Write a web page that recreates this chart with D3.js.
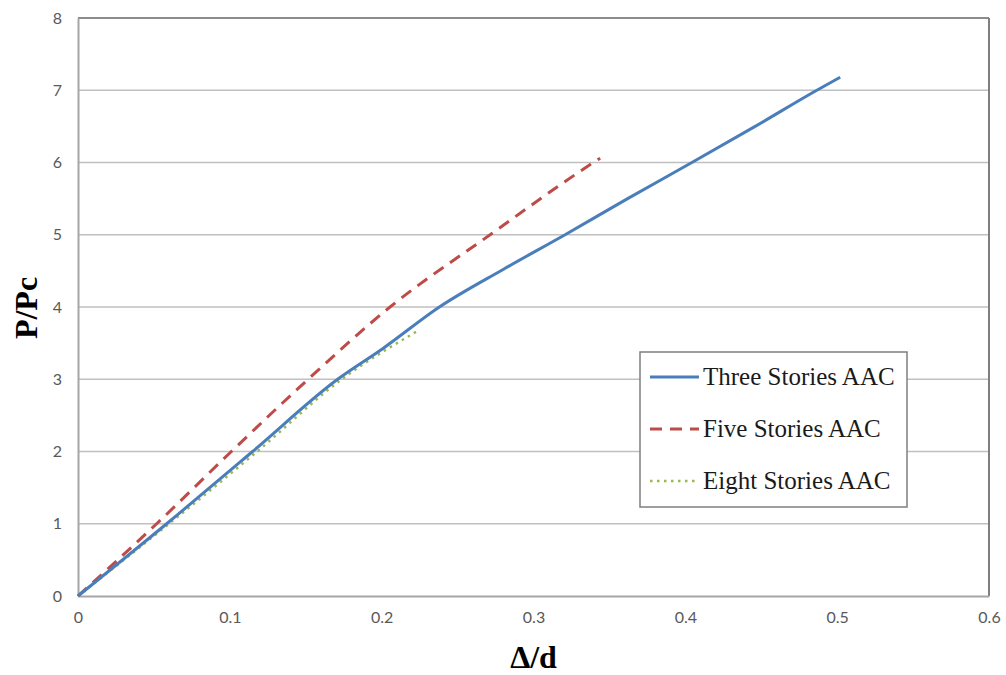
<!DOCTYPE html>
<html>
<head>
<meta charset="utf-8">
<script src="https://cdn.jsdelivr.net/npm/d3@7"></script>
<style>
  body { margin: 0; background: #fff; }
  .tick text { font-family: Lato, "Open Sans", sans-serif; font-size: 16px; fill: #595959; }
</style>
</head>
<body>
<div id="chart"></div>
<script>
// data (x = delta/d, y = P/Pc)
var threeX = [0, 0.0584, 0.115, 0.171, 0.2011, 0.2380, 0.2800, 0.3208, 0.3620, 0.4043, 0.4460, 0.4866, 0.502];
var threeY = [0, 1, 2, 3, 3.43, 4, 4.52, 5, 5.50, 6, 6.50, 7, 7.18];
var fiveX = [0, 0.0518, 0.101, 0.1516, 0.2055, 0.2714, 0.3380, 0.3439];
var fiveY = [0, 1, 2, 3, 4, 5, 5.98, 6.06];
var eightX = [0, 0.060, 0.118, 0.1737, 0.223];
var eightY = [0, 1, 2, 3, 3.66];
var seriesNames = ["Three Stories AAC", "Five Stories AAC", "Eight Stories AAC"];
var xTicks = [0, 0.1, 0.2, 0.3, 0.4, 0.5, 0.6];
var yTicks = [0, 1, 2, 3, 4, 5, 6, 7, 8];

var W = 1006, H = 675;
var margin = { top: 18, right: 17, bottom: 79, left: 78 },
    width = W - margin.left - margin.right,
    height = H - margin.top - margin.bottom;

var svg = d3.select("#chart").append("svg")
    .attr("width", W).attr("height", H)
    .append("g")
    .attr("transform", `translate(${margin.left} ${margin.top})`);

var x = d3.scaleLinear().domain([0, 0.6]).range([0, width]);
var y = d3.scaleLinear().domain([0, 8]).range([height, 0]);

// gridlines
svg.append("g")
    .selectAll("line")
    .data(yTicks.slice(1))
    .enter().append("line")
    .attr("x1", 0).attr("x2", width)
    .attr("y1", d => y(d)).attr("y2", d => y(d))
    .attr("stroke", d => d === 8 ? "#8c8c8c" : "#c0c0c0")
    .attr("stroke-width", d => d === 8 ? 2 : 1.5);

// right border
svg.append("line")
    .attr("x1", width).attr("x2", width)
    .attr("y1", 0).attr("y2", height)
    .attr("stroke", "#7f7f7f").attr("stroke-width", 2);

// axes
var xAxis = svg.append("g")
    .attr("transform", "translate(0," + height + ")")
    .call(d3.axisBottom(x).tickValues(xTicks).tickSize(0).tickPadding(16).tickFormat(d => d === 0 ? "0" : d3.format(".1f")(d)));
xAxis.select(".domain").attr("stroke", "#a6a6a6").attr("stroke-width", 2);

var yAxis = svg.append("g")
    .call(d3.axisLeft(y).tickValues(yTicks).tickSize(0).tickPadding(16).tickFormat(d3.format("d")));
yAxis.select(".domain").attr("stroke", "#a6a6a6").attr("stroke-width", 2);

// lines
var line = d3.line()
    .curve(d3.curveMonotoneX)
    .x(d => x(d[0]))
    .y(d => y(d[1]));

var series = [
    { pts: d3.zip(threeX, threeY), color: "#4a7ebb", dash: null, w: 3 },
    { pts: d3.zip(fiveX, fiveY), color: "#be4b48", dash: "12,8", w: 3 },
    { pts: d3.zip(eightX, eightY), color: "#98b954", dash: "2.5,4.5", w: 2.5 }
];

svg.selectAll(".series")
    .data(series.slice().reverse())
    .enter().append("path")
    .attr("class", "series")
    .attr("fill", "none")
    .attr("stroke", d => d.color)
    .attr("stroke-width", d => d.w)
    .attr("stroke-dasharray", d => d.dash)
    .attr("stroke-linejoin", "round")
    .attr("d", d => line(d.pts));

// axis titles
svg.append("text")
    .attr("x", x(0.3)).attr("y", height + 72)
    .attr("text-anchor", "middle")
    .style("font-family", "'Liberation Serif', 'Times New Roman', serif")
    .style("font-weight", "bold").style("font-size", "32px")
    .text("Δ/d");

svg.append("text")
    .attr("transform", `translate(${-margin.left + 37} ${y(4) + 1}) rotate(-90)`)
    .attr("text-anchor", "middle")
    .style("font-family", "'Liberation Serif', 'Times New Roman', serif")
    .style("font-weight", "bold").style("font-size", "32px")
    .text("P/Pc");

// legend
var legend = svg.append("g")
    .attr("transform", `translate(${640 - margin.left} ${352 - margin.top})`);

legend.append("rect")
    .attr("width", 267).attr("height", 155)
    .attr("fill", "#fff")
    .attr("stroke", "#7f7f7f").attr("stroke-width", 1.5);

var items = legend.selectAll(".item")
    .data(series)
    .enter().append("g")
    .attr("class", "item")
    .attr("transform", (d, i) => `translate(0 ${25 + i * 52})`);

items.append("line")
    .attr("x1", 10).attr("x2", 59)
    .attr("y1", 0).attr("y2", 0)
    .attr("stroke", d => d.color)
    .attr("stroke-width", d => d.w)
    .attr("stroke-dasharray", d => d.dash);

items.append("text")
    .attr("x", 63).attr("y", 8)
    .style("font-family", "'Liberation Serif', 'Times New Roman', serif")
    .style("font-size", "25px")
    .attr("fill", "#1a1a1a")
    .text((d, i) => seriesNames[i]);
</script>
</body>
</html>
